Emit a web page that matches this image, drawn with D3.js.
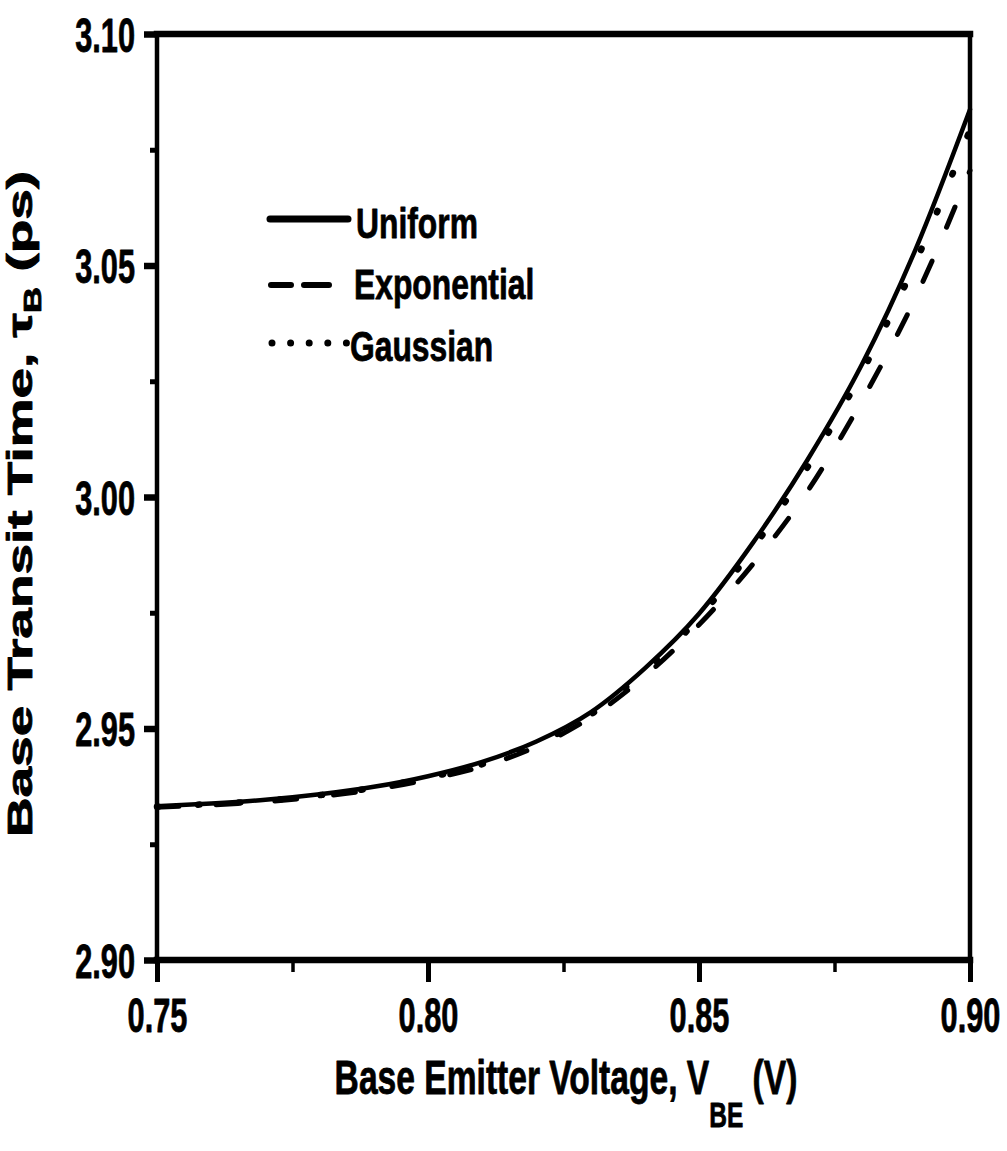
<!DOCTYPE html>
<html>
<head>
<meta charset="utf-8">
<script src="https://cdn.jsdelivr.net/npm/d3@7"></script>
<style>
  html, body { margin: 0; padding: 0; background: #fff; }
  svg { display: block; }
</style>
</head>
<body>
<svg id="chart" width="1007" height="1151"></svg>
<script>
// Base emitter voltage (V)
const vbe = [0.75, 0.76, 0.77, 0.78, 0.79, 0.80, 0.81, 0.82,
             0.83, 0.84, 0.85, 0.86, 0.87, 0.88, 0.89, 0.90];

// Base transit time (ps) for each doping profile
const uniform     = [2.9332, 2.9338, 2.9346, 2.9358, 2.9374, 2.9397, 2.9428, 2.9472,
                     2.9535, 2.9630, 2.9748, 2.9902, 3.0080, 3.0285, 3.0536, 3.0837];
const exponential = [2.9330, 2.9335, 2.9342, 2.9353, 2.9368, 2.9390, 2.9418, 2.9461,
                     2.9524, 2.9613, 2.9724, 2.9856, 3.0012, 3.0207, 3.0432, 3.0705];
const gaussian    = [2.9331, 2.9337, 2.9344, 2.9356, 2.9372, 2.9394, 2.9423, 2.9467,
                     2.9530, 2.9625, 2.9739, 2.9890, 3.0064, 3.0268, 3.0508, 3.0793];

const seriesNames = ["Uniform", "Exponential", "Gaussian"];

// Tick values
const xMajor = [0.75, 0.80, 0.85, 0.90];
const xMinor = [0.775, 0.825, 0.875];
const yMajor = [2.90, 2.95, 3.00, 3.05, 3.10];
const yMinor = [2.925, 2.975, 3.025, 3.075];

const FONT = "'Liberation Sans', Arial, Helvetica, sans-serif";
const svg = d3.select("#chart");
svg.append("rect").attr("width", 1007).attr("height", 1151).attr("fill", "#fff");

const x = d3.scaleLinear().domain([0.75, 0.90]).range([157, 970]);
const y = d3.scaleLinear().domain([2.90, 3.10]).range([960, 34]);

// heavy bold text style shared by all labels
function heavy(sel, size) {
  return sel.style("font-family", FONT).style("font-size", size + "px")
    .style("font-weight", "bold")
    .attr("fill", "#000").attr("stroke", "#000").attr("stroke-width", 0.8)
    .attr("stroke-linejoin", "round");
}

// ---- curves ----
const line = d3.line()
  .x(d => x(d[0]))
  .y(d => y(d[1]))
  .curve(d3.curveMonotoneX);

const curves = [
  { name: "Uniform",     values: uniform,     width: 4.5, dash: null },
  { name: "Exponential", values: exponential, width: 5,   dash: "22 37" },
  { name: "Gaussian",    values: gaussian,    width: 6.5, dash: "1.5 39.5" }
];

const plot = svg.append("g").attr("class", "curves");
curves.forEach(c => {
  plot.append("path")
    .datum(vbe.map((v, i) => [v, c.values[i]]))
    .attr("d", line)
    .attr("fill", "none")
    .attr("stroke", "#000")
    .attr("stroke-width", c.width)
    .attr("stroke-linecap", "round")
    .attr("stroke-linejoin", "round")
    .attr("stroke-dasharray", c.dash);
});

// ---- axes ----
const xAxisG = svg.append("g").attr("transform", "translate(0,960)");
xAxisG.call(d3.axisBottom(x).tickValues(xMajor).tickSize(22).tickSizeOuter(0)
  .tickFormat(d3.format(".2f")));
xAxisG.select(".domain").remove();
xAxisG.selectAll(".tick line").attr("stroke", "#000").attr("stroke-width", 5);
heavy(xAxisG.selectAll(".tick text"), 48)
  .attr("y", 72).attr("dy", null)
  .attr("transform", "scale(0.64,1)");

const xMinorG = svg.append("g").attr("transform", "translate(0,960)");
xMinorG.call(d3.axisBottom(x).tickValues(xMinor).tickSize(12).tickSizeOuter(0).tickFormat(""));
xMinorG.select(".domain").remove();
xMinorG.selectAll(".tick line").attr("stroke", "#000").attr("stroke-width", 3.5);

const yAxisG = svg.append("g").attr("transform", "translate(157,0)");
yAxisG.call(d3.axisLeft(y).tickValues(yMajor).tickSize(13).tickSizeOuter(0)
  .tickFormat(d3.format(".2f")));
yAxisG.select(".domain").remove();
yAxisG.selectAll(".tick line").attr("stroke", "#000").attr("stroke-width", 6.5);
heavy(yAxisG.selectAll(".tick text"), 48)
  .attr("x", -22 / 0.64).attr("y", 17).attr("dy", null)
  .attr("transform", "scale(0.64,1)");

const yMinorG = svg.append("g").attr("transform", "translate(157,0)");
yMinorG.call(d3.axisLeft(y).tickValues(yMinor).tickSize(7).tickSizeOuter(0).tickFormat(""));
yMinorG.select(".domain").remove();
yMinorG.selectAll(".tick line").attr("stroke", "#000").attr("stroke-width", 5);

// ---- frame ----
const [x0, x1] = x.range();
const [yb, yt] = y.range();
const frame = svg.append("g").attr("stroke", "#000").attr("stroke-linecap", "square");
frame.append("line").attr("x1", x0).attr("x2", x1).attr("y1", yb).attr("y2", yb).attr("stroke-width", 6.5);
frame.append("line").attr("x1", x0).attr("x2", x1).attr("y1", yt).attr("y2", yt).attr("stroke-width", 6.5);
frame.append("line").attr("x1", x0).attr("x2", x0).attr("y1", yt).attr("y2", yb).attr("stroke-width", 4.5);
frame.append("line").attr("x1", x1).attr("x2", x1).attr("y1", yt).attr("y2", yb).attr("stroke-width", 4.5);

// ---- axis titles ----
const xTitle = heavy(svg.append("text"), 48)
  .attr("transform", "translate(566,1094) scale(0.70,1)")
  .attr("text-anchor", "middle");
xTitle.append("tspan").text("Base Emitter Voltage, V");
xTitle.append("tspan").attr("dy", 33).style("font-size", "35px").text("BE");
xTitle.append("tspan").attr("dy", -33).text(" (V)");

const yTitle = heavy(svg.append("text"), 35)
  .attr("transform", "translate(32,504) rotate(-90) scale(1.57,1)")
  .attr("text-anchor", "middle");
yTitle.append("tspan").text("Base Transit Time, \u03C4");
yTitle.append("tspan").attr("dy", 9).style("font-size", "23px").text("B");
yTitle.append("tspan").attr("dy", -9).text(" (ps)");

// ---- legend ----
const legend = svg.append("g").attr("class", "legend");
const legendRows = [
  { lineY: 219, textX: 356, baseY: 238 },
  { lineY: 285, textX: 354, baseY: 299 },
  { lineY: 343, textX: 350, baseY: 361 }
];

legend.append("line").attr("x1", 270).attr("x2", 348)
  .attr("y1", legendRows[0].lineY).attr("y2", legendRows[0].lineY)
  .attr("stroke", "#000").attr("stroke-width", 7).attr("stroke-linecap", "round");
legend.append("line").attr("x1", 271).attr("x2", 329)
  .attr("y1", legendRows[1].lineY).attr("y2", legendRows[1].lineY)
  .attr("stroke", "#000").attr("stroke-width", 6).attr("stroke-linecap", "round")
  .attr("stroke-dasharray", "20 13 25 100");
legend.append("line").attr("x1", 272).attr("x2", 346.5)
  .attr("y1", legendRows[2].lineY).attr("y2", legendRows[2].lineY)
  .attr("stroke", "#000").attr("stroke-width", 7).attr("stroke-linecap", "round")
  .attr("stroke-dasharray", "0 18.6");

seriesNames.forEach((name, i) => {
  const r = legendRows[i];
  heavy(legend.append("text"), 43)
    .attr("transform", `translate(${r.textX},${r.baseY}) scale(0.74,1)`)
    .text(name);
});
</script>
</body>
</html>
